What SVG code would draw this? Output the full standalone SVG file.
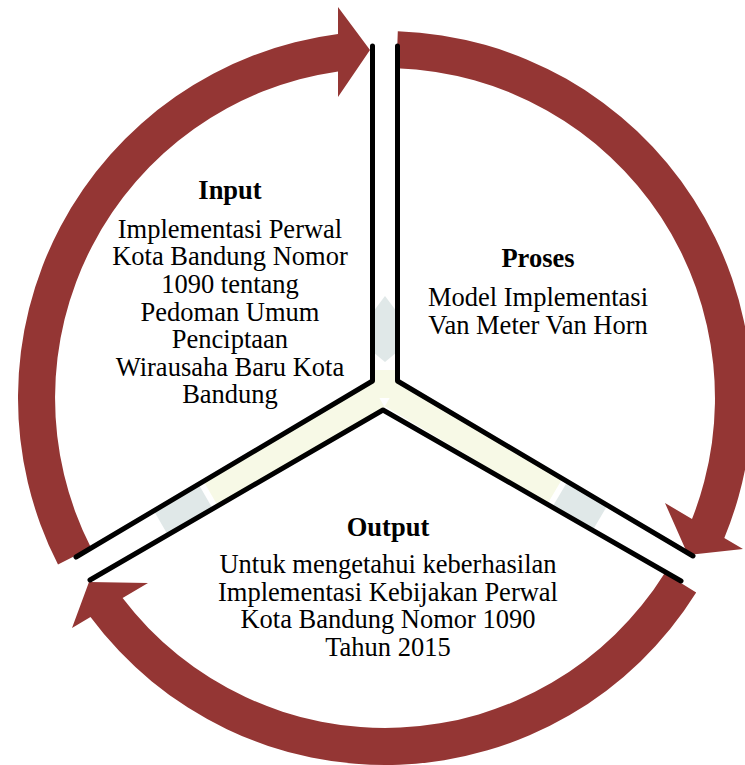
<svg xmlns="http://www.w3.org/2000/svg" width="745" height="765" viewBox="0 0 745 765">
<style>
.arc{fill:#943634;stroke:none}
.edge{fill:none;stroke:#000;stroke-width:5;stroke-linejoin:round;stroke-linecap:round}
.wm{fill:none;stroke-width:28;stroke-linecap:butt}
.t{font-family:"Liberation Serif","Times New Roman",serif;font-size:26.5px;fill:#000;text-anchor:middle}
.h{font-weight:bold}
</style>
<rect width="745" height="765" fill="#fff"/>
<g id="watermark">
<polygon points="385,296 397,312 397,352 385,362 373,352 373,312" fill="#e0e8e8"/>
<line class="wm" x1="385" y1="370" x2="385" y2="398" stroke="#f7f9e6"/>
<line class="wm" x1="378" y1="395.5" x2="210" y2="492.4" stroke="#f7f9e6"/>
<line class="wm" x1="205" y1="495.3" x2="160" y2="521.3" stroke="#e0e8e8"/>
<line class="wm" x1="392" y1="394.1" x2="555" y2="491.1" stroke="#f7f9e6"/>
<line class="wm" x1="560" y1="494.1" x2="600" y2="517.9" stroke="#e0e8e8"/>
</g>
<g id="arrows">
<path id="arrow-input" class="arc" d="M58,564.6 A367,367 0 0 1 338,34 L338,7 L370,50 L338,97 L338,71.4 A330,330 0 0 0 91,547.8 Z"/>
<path id="arrow-proses" class="arc" d="M397.8,31.2 A367,367 0 0 1 724.3,538 L743,549 L688,555 L665,503 L692,519 A330,330 0 0 0 396.5,68.2 Z"/>
<path id="arrow-output" class="arc" d="M696.2,592.5 A367,367 0 0 1 90.5,617 L72,628 L89,582 L148,583 L122.6,598.1 A330,330 0 0 0 664.8,572.9 Z"/>
</g>
<g id="connectors">
<polyline class="edge" points="372.5,46 372.5,381 76,557"/>
<polyline class="edge" points="397.5,46 397.5,381 693,556"/>
<polyline class="edge" points="90,580 383,410 681,581"/>
</g>
<g id="node-input">
<text class="t h" x="230" y="198.5">Input</text>
<text class="t" x="230" y="237.6">Implementasi Perwal</text>
<text class="t" x="230" y="264.9">Kota Bandung Nomor</text>
<text class="t" x="230" y="292.7">1090 tentang</text>
<text class="t" x="230" y="320.5">Pedoman Umum</text>
<text class="t" x="230" y="347.8">Penciptaan</text>
<text class="t" x="230" y="375.6">Wirausaha Baru Kota</text>
<text class="t" x="230" y="403.4">Bandung</text>
</g>
<g id="node-proses">
<text class="t h" x="538" y="267.3">Proses</text>
<text class="t" x="538" y="306.3">Model Implementasi</text>
<text class="t" x="538" y="334.1">Van Meter Van Horn</text>
</g>
<g id="node-output">
<text class="t h" x="388" y="535.6">Output</text>
<text class="t" x="388" y="573.2">Untuk mengetahui keberhasilan</text>
<text class="t" x="388" y="601">Implementasi Kebijakan Perwal</text>
<text class="t" x="388" y="628.3">Kota Bandung Nomor 1090</text>
<text class="t" x="388" y="656.1">Tahun 2015</text>
</g>
</svg>
